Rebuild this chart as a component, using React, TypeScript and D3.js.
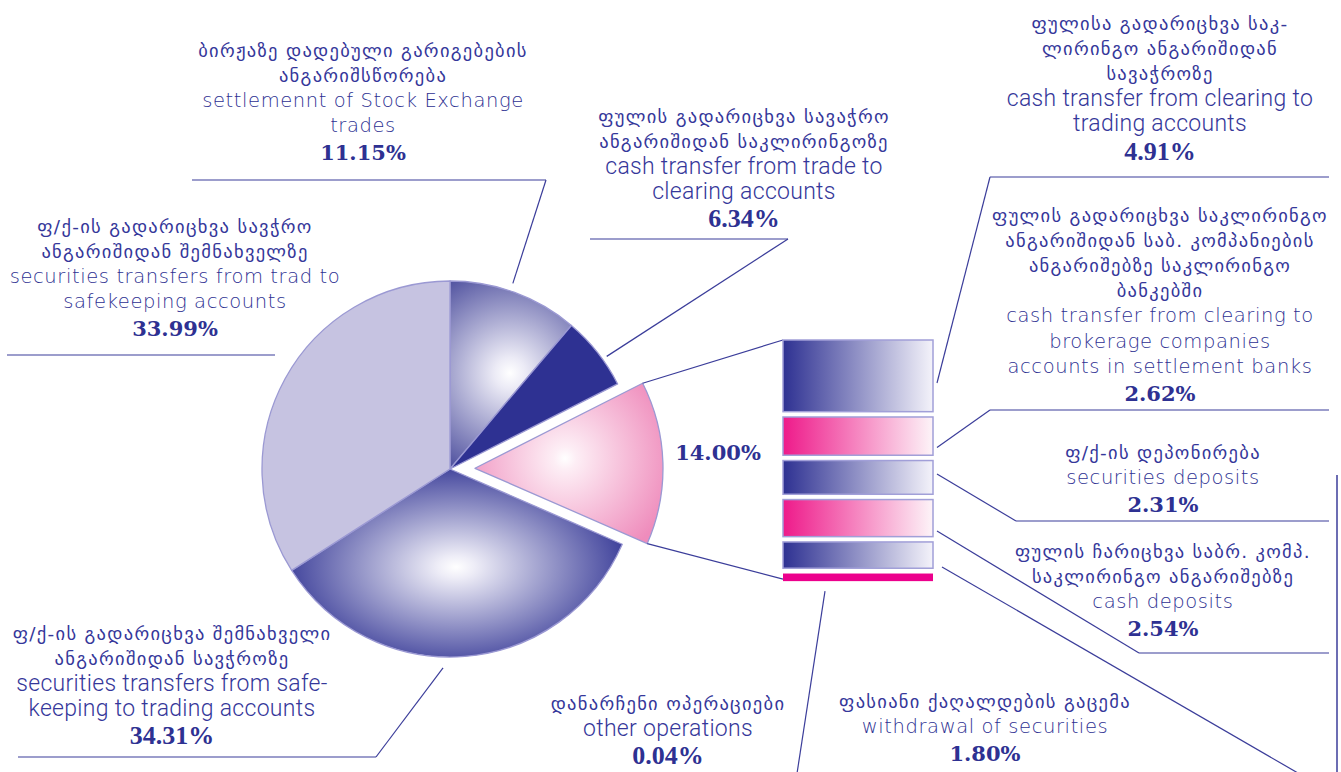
import React from "react";
import * as d3 from "d3";

// ---------- DATA ----------
const pieCategories = [
  "settlement of Stock Exchange trades",
  "cash transfer from trade to clearing accounts",
  "other (split into bar)",
  "securities transfers from safekeeping to trading accounts",
  "securities transfers from trade to safekeeping accounts",
];
const pieValues = [11.15, 6.34, 14.0, 34.31, 33.99];

const barCategories = [
  "cash transfer from clearing to trading accounts",
  "cash transfer from clearing to brokerage companies accounts in settlement banks",
  "securities deposits",
  "cash deposits",
  "withdrawal of securities",
  "other operations",
];
const barValues = [4.91, 2.62, 2.31, 2.54, 1.8, 0.04];

const pieLabelsKa = [
  ["ბირჟაზე დადებული გარიგებების", "ანგარიშსწორება"],
  ["ფულის გადარიცხვა სავაჭრო", "ანგარიშიდან საკლირინგოზე"],
  [],
  ["ფ/ქ-ის გადარიცხვა შემნახველი", "ანგარიშიდან სავჭროზე"],
  ["ფ/ქ-ის გადარიცხვა სავჭრო", "ანგარიშიდან შემნახველზე"],
];
const pieLabelsEn = [
  ["settlemennt of Stock Exchange", "trades"],
  ["cash transfer from trade to", "clearing accounts"],
  [],
  ["securities transfers from safe-", "keeping to trading accounts"],
  ["securities transfers from trad to", "safekeeping accounts"],
];

const barLabelsKa = [
  ["ფულისა გადარიცხვა საკ-", "ლირინგო ანგარიშიდან", "სავაჭროზე"],
  ["ფულის გადარიცხვა საკლირინგო", "ანგარიშიდან საბ. კომპანიების", "ანგარიშებზე საკლირინგო", "ბანკებში"],
  ["ფ/ქ-ის დეპონირება"],
  ["ფულის ჩარიცხვა საბრ. კომპ.", "საკლირინგო ანგარიშებზე"],
  ["ფასიანი ქაღალდების გაცემა"],
  ["დანარჩენი ოპერაციები"],
];
const barLabelsEn = [
  ["cash transfer from clearing to", "trading accounts"],
  ["cash transfer from clearing to", "brokerage companies", "accounts in settlement banks"],
  ["securities deposits"],
  ["cash deposits"],
  ["withdrawal of securities"],
  ["other operations"],
];

// ---------- STYLE / LAYOUT ----------
const W = 1341;
const H = 772;
const NAVY = "#2e3192";
const TEXT = "#35379a";
const LINE = "#3b3d9a";
const pieFills = ["url(#gPurpleA)", NAVY, "url(#gPink)", "url(#gPurpleB)", "#c6c3e1"];
const barFills = ["url(#gBarBlue)", "url(#gBarPink)", "url(#gBarBlue)", "url(#gBarPink)", "url(#gBarBlue)", "#ec008c"];
const explodeIndex = 2;

const pieCx = 450;
const pieCy = 469;
const R = 188;
const explodeDist = 25;

const barX0 = 783;
const barX1 = 933;
const barTop = 340;
const barGap = 5.3;
const pxPerUnit = 14.6;
const barMinH = 7.6;

const lineH = 25.2;

type PieLay = { cx: number; y: number; narrow: boolean; under?: [number, number, number]; leader?: { angle: number; r: number } } | null;
const pieLayout: PieLay[] = [
  { cx: 363, y: 50, narrow: false, under: [192, 546, 180], leader: { angle: 18.7, r: 196 } },
  { cx: 744, y: 116, narrow: true, under: [590, 788, 239], leader: { angle: 54.3, r: 193 } },
  null,
  { cx: 172, y: 633, narrow: true, under: [18, 376, 757], leader: { angle: 182, r: 199 } },
  { cx: 175, y: 226, narrow: false, under: [7, 275, 355] },
];

type BarLay = { cx: number; y: number; narrow: boolean; under?: [number, number, number]; frac: number; to?: [number, number] };
const barLayout: BarLay[] = [
  { cx: 1160, y: 23, narrow: true, under: [990, 1329, 177], frac: 0.6 },
  { cx: 1160, y: 215, narrow: false, under: [990, 1329, 410], frac: 0.8 },
  { cx: 1163, y: 452, narrow: false, under: [1016, 1329, 521], frac: 0.4 },
  { cx: 1163, y: 551, narrow: false, under: [1139, 1329, 653], frac: 0.85 },
  { cx: 985, y: 701, narrow: false, frac: 0.95, to: [1310, 780] },
  { cx: 668, y: 703, narrow: true, frac: 1, to: [796, 780] },
];

const fmt = (v: number) => d3.format(".2f")(v) + "%";

function LabelBlock({ cx, y, narrow, ka, en, pct }: { cx: number; y: number; narrow: boolean; ka: string[]; en: string[]; pct: string }) {
  const items: { t: string; k: string }[] = [
    ...ka.map((t) => ({ t, k: "ka" })),
    ...en.map((t) => ({ t, k: "en" })),
    { t: pct, k: "pct" },
  ];
  return (
    <g>
      {items.map((it, i) => {
        const yy = y + i * lineH + (it.k === "pct" ? 2 : 0);
        if (it.k === "ka")
          return (
            <text key={i} x={cx} y={yy} textAnchor="middle" dominantBaseline="central" fill={TEXT}
              style={{ fontFamily: "'DejaVu Sans', sans-serif", fontSize: 18.5, letterSpacing: 1.3 }}>{it.t}</text>
          );
        if (it.k === "en")
          return narrow ? (
            <text key={i} x={cx} y={yy} textAnchor="middle" dominantBaseline="central" fill={TEXT}
              style={{ fontFamily: "Roboto, 'Liberation Sans', sans-serif", fontSize: 23, fontWeight: 300, letterSpacing: 0.3 }}>{it.t}</text>
          ) : (
            <text key={i} x={cx} y={yy} textAnchor="middle" dominantBaseline="central" fill={NAVY}
              style={{ fontFamily: "'DejaVu Sans', sans-serif", fontSize: 19.5, fontWeight: 200, letterSpacing: 0.6 }}>{it.t}</text>
          );
        return narrow ? (
          <text key={i} x={cx} y={yy} textAnchor="middle" dominantBaseline="central" fill={NAVY}
            style={{ fontFamily: "'Liberation Serif', serif", fontSize: 26, fontWeight: 700 }}>{it.t}</text>
        ) : (
          <text key={i} x={cx} y={yy} textAnchor="middle" dominantBaseline="central" fill={NAVY}
            style={{ fontFamily: "'DejaVu Serif', serif", fontSize: 21, fontWeight: 700 }}>{it.t}</text>
        );
      })}
    </g>
  );
}

export default function App() {
  const pie = d3.pie<number>().sort(null).value((d) => d).startAngle(0).endAngle(2 * Math.PI);
  const arcs = pie(pieValues);
  const arcGen = d3.arc<d3.PieArcDatum<number>>().innerRadius(0).outerRadius(R);

  const ex = arcs[explodeIndex];
  const exMid = (ex.startAngle + ex.endAngle) / 2;
  const exDx = explodeDist * Math.sin(exMid);
  const exDy = -explodeDist * Math.cos(exMid);
  const exCx = pieCx + exDx;
  const exCy = pieCy + exDy;
  const topCorner: [number, number] = [exCx + R * Math.sin(ex.startAngle), exCy - R * Math.cos(ex.startAngle)];
  const botCorner: [number, number] = [exCx + R * Math.sin(ex.endAngle), exCy - R * Math.cos(ex.endAngle)];

  // bar stack
  const hScale = d3.scaleLinear().domain([0, 1]).range([0, pxPerUnit]);
  let acc = barTop;
  const segs = barValues.map((v) => {
    const h = Math.max(hScale(v), barMinH);
    const s = { y: acc, h };
    acc += h + barGap;
    return s;
  });
  const barBottom = segs[segs.length - 1].y + segs[segs.length - 1].h;

  const pt = (deg: number, r: number): [number, number] => {
    const a = (deg * Math.PI) / 180;
    return [pieCx + r * Math.sin(a), pieCy - r * Math.cos(a)];
  };

  return (
    <svg width={W} height={H} viewBox={`0 0 ${W} ${H}`} style={{ position: "absolute", left: 0, top: 0, background: "#fff" }}>
      <defs>
        {/* gradient coordinates are in each slice's local (centre-origin) space */}
        <radialGradient id="gPurpleA" gradientUnits="userSpaceOnUse" cx={60} cy={-96} r={128}>
          <stop offset="0" stopColor="#ffffff" />
          <stop offset="0.12" stopColor="#ecebf6" />
          <stop offset="1" stopColor="#33358f" />
        </radialGradient>
        <radialGradient id="gPurpleB" gradientUnits="userSpaceOnUse" cx={0} cy={0} r={1}
          gradientTransform={`translate(6,98) scale(185,110)`}>
          <stop offset="0" stopColor="#ffffff" />
          <stop offset="0.1" stopColor="#eeedf7" />
          <stop offset="1" stopColor="#2e3192" />
        </radialGradient>
        <radialGradient id="gPink" gradientUnits="userSpaceOnUse" cx={90} cy={-10} r={112}>
          <stop offset="0" stopColor="#ffffff" />
          <stop offset="0.1" stopColor="#fdeef5" />
          <stop offset="1" stopColor="#ef8cbc" />
        </radialGradient>
        <linearGradient id="gBarBlue" x1="0" x2="1" y1="0" y2="0">
          <stop offset="0" stopColor="#2e3192" />
          <stop offset="1" stopColor="#f4f3fa" />
        </linearGradient>
        <linearGradient id="gBarPink" x1="0" x2="1" y1="0" y2="0">
          <stop offset="0" stopColor="#ee1a8a" />
          <stop offset="1" stopColor="#fdf4f8" />
        </linearGradient>
      </defs>

      {/* pie */}
      <g>
        {arcs.map((a, i) => {
          const tx = i === explodeIndex ? exDx : 0;
          const ty = i === explodeIndex ? exDy : 0;
          return (
            <path key={pieCategories[i]} d={arcGen(a) || ""} transform={`translate(${pieCx + tx},${pieCy + ty})`}
              fill={pieFills[i]} stroke="#9b99d3" strokeWidth={1.3} strokeLinejoin="round" />
          );
        })}
      </g>

      {/* connectors pie -> bar */}
      <line x1={topCorner[0]} y1={topCorner[1]} x2={barX0} y2={barTop} stroke={LINE} strokeWidth={1.2} />
      <line x1={botCorner[0]} y1={botCorner[1]} x2={barX0} y2={barBottom - 2} stroke={LINE} strokeWidth={1.2} />

      {/* bar */}
      <g>
        {segs.map((s, i) => (
          <rect key={barCategories[i]} x={barX0} y={s.y} width={barX1 - barX0} height={s.h} fill={barFills[i]}
            stroke={i === segs.length - 1 ? "none" : "#a19fd8"} strokeWidth={1.5} />
        ))}
      </g>

      {/* pie labels */}
      {pieLayout.map((L, i) => {
        if (!L) return null;
        const lead = L.leader ? pt(L.leader.angle, L.leader.r) : null;
        return (
          <g key={"pl" + i}>
            <LabelBlock cx={L.cx} y={L.y} narrow={L.narrow} ka={pieLabelsKa[i]} en={pieLabelsEn[i]} pct={fmt(pieValues[i])} />
            {L.under && <line x1={L.under[0]} x2={L.under[1]} y1={L.under[2]} y2={L.under[2]} stroke={LINE} strokeWidth={1.2} />}
            {L.under && lead && <line x1={L.under[1]} y1={L.under[2]} x2={lead[0]} y2={lead[1]} stroke={LINE} strokeWidth={1.2} />}
          </g>
        );
      })}

      {/* exploded slice value */}
      <text x={718} y={452} textAnchor="middle" dominantBaseline="central" fill={NAVY}
        style={{ fontFamily: "'DejaVu Serif', serif", fontSize: 21, fontWeight: 700 }}>{fmt(pieValues[explodeIndex])}</text>

      {/* bar labels */}
      {barLayout.map((L, i) => {
        const s = segs[i];
        const last = i === segs.length - 1;
        const sx = last ? barX0 + 42 : barX1 + 4 + (i === 4 ? 5 : 0);
        const sy = last ? barBottom + 10 : s.y + s.h * L.frac;
        const end: [number, number] = L.under ? [L.under[0], L.under[2]] : (L.to as [number, number]);
        return (
          <g key={"bl" + i}>
            <LabelBlock cx={L.cx} y={L.y} narrow={L.narrow} ka={barLabelsKa[i]} en={barLabelsEn[i]} pct={fmt(barValues[i])} />
            {L.under && <line x1={L.under[0]} x2={L.under[1]} y1={L.under[2]} y2={L.under[2]} stroke={LINE} strokeWidth={1.2} />}
            <line x1={sx} y1={sy} x2={end[0]} y2={end[1]} stroke={LINE} strokeWidth={1.2} />
          </g>
        );
      })}

      {/* right frame line */}
      <line x1={1337} x2={1337} y1={475} y2={H} stroke={LINE} strokeWidth={1.5} />
    </svg>
  );
}
